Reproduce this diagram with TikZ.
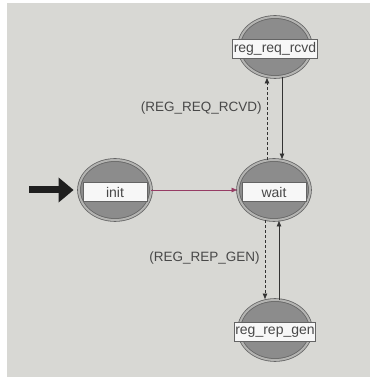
\documentclass[tikz,border=0pt]{standalone}
\usepackage{fontspec}
\setmainfont{Liberation Sans}
\usetikzlibrary{shapes.geometric,arrows.meta}
\definecolor{paper}{RGB}{216,216,212}
\definecolor{statefill}{RGB}{140,140,140}
\definecolor{statering}{RGB}{180,180,178}
\definecolor{stateedge}{RGB}{100,100,100}
\definecolor{inkgray}{RGB}{72,72,72}
\definecolor{initline}{RGB}{150,60,100}
\begin{document}
\begin{tikzpicture}[x=1pt,y=1pt,
    state/.style={ellipse,minimum width=72pt,minimum height=60pt,fill=statefill,
      draw=stateedge,line width=0.8pt,double=statering,double distance=2pt},
    tag/.style={rectangle,fill=white!94!gray,draw=stateedge,line width=0.6pt,
      minimum width=64pt,minimum height=19pt,inner xsep=1pt,inner ysep=0pt,
      font=\fontsize{14}{15}\selectfont,text=inkgray},
    cond/.style={font=\fontsize{13.5}{14}\selectfont,text=inkgray,inner sep=1pt},
    move/.style={draw=black!80,line width=0.7pt,-{Latex[length=6pt,width=5pt]}}]
  % the sheet
  \useasboundingbox (0,0) rectangle (370,378);
  \fill[paper] (7,1) rectangle (370,375);
  %%%% the states
  \foreach \n/\x/\y/\t in {init/115/188/init,wait/274/188/wait,
      rcvd/275/331/reg\_req\_rcvd,gen/275/48/reg\_rep\_gen}
  {
    \node[state] (\n) at (\x,\y) {};
    \node[tag] (\n-tag) at ([yshift=-2pt]\n.center) {\t};
  }
  %% start arrow
  \coordinate (start) at (29,188);
  \draw[black!88,line width=7pt,shorten >=5pt,-{Triangle[length=15pt,width=24pt]}] (start) -- (init.west);
  %% init -> wait
  \draw[move,draw=initline] (init.east) -- (wait.west);
  %%%% upper pair
  \draw[move,densely dashed] ([xshift=-7pt]wait.north) -- ([xshift=-7pt]wait.north |- rcvd.south)
    node[cond,left=4pt,pos=0.63] (reqlab) {(REG\_REQ\_RCVD)};
  \draw[move] ([xshift=8pt]wait.north |- rcvd.south) -- ([xshift=8pt]wait.north);
  %%%% lower pair
  \draw[move,densely dashed] ([xshift=-9pt]wait.south) -- ([xshift=-9pt]wait.south |- gen.north)
    node[cond,left=4pt,pos=0.47] (replab) {(REG\_REP\_GEN)};
  \draw[move] ([xshift=5pt]wait.south |- gen.north) -- ([xshift=5pt]wait.south);
\end{tikzpicture}
\end{document}
